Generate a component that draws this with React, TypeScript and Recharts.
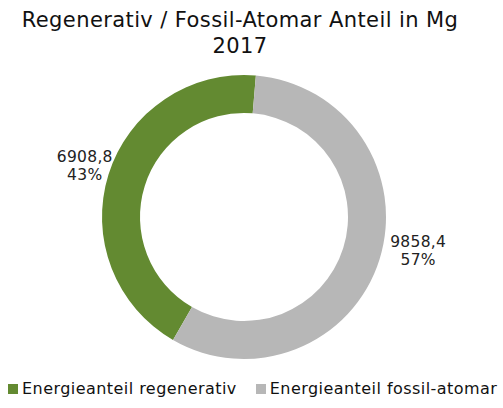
import React from "react";
import { PieChart, Pie, Cell } from "recharts";

const categories = ["Energieanteil regenerativ", "Energieanteil fossil-atomar"];
const values = [6908.8, 9858.4];
const shares = [43, 57];
const colors = ["#638A31", "#B7B7B7"];
const titleLines = ["Regenerativ / Fossil-Atomar Anteil in Mg", "2017"];

const data = categories.map((name, i) => ({
  name,
  value: values[i],
  share: shares[i],
}));

const FONT = "'DejaVu Sans', Verdana, sans-serif";
const RAD = Math.PI / 180;
const LABEL_NUDGE = [
  { dx: 3, dy: 0 },
  { dx: 12, dy: -17 },
];

const fmt = (v: number) => v.toFixed(1).replace(".", ",");

const renderLabel = (props: any) => {
  const { cx, cy, midAngle, outerRadius, index, payload } = props;
  const r = outerRadius + 28;
  const x = cx + r * Math.cos(-midAngle * RAD) + LABEL_NUDGE[index].dx;
  const y = cy + r * Math.sin(-midAngle * RAD) + LABEL_NUDGE[index].dy;
  const p = payload && payload.payload ? payload.payload : payload;
  return (
    <text
      x={x}
      y={y}
      textAnchor="middle"
      fontFamily={FONT}
      fontSize={15.5}
      letterSpacing={0.3}
      fill="#222"
    >
      <tspan x={x} dy={-4}>
        {fmt(p.value)}
      </tspan>
      <tspan x={x} dy={18}>
        {p.share + "%"}
      </tspan>
    </text>
  );
};

export default function App() {
  return (
    <div
      style={{
        position: "fixed",
        left: 0,
        top: 0,
        width: 503,
        height: 408,
        background: "#fff",
        fontFamily: FONT,
      }}
    >
      <div
        style={{
          position: "absolute",
          left: 0,
          top: 7,
          width: 480,
          textAlign: "center",
          fontSize: 21,
          letterSpacing: 0.4,
          lineHeight: "26px",
          color: "#111",
        }}
      >
        {titleLines.map((t) => (
          <div key={t}>{t}</div>
        ))}
      </div>
      <div style={{ position: "absolute", left: 0, top: 0 }}>
        <PieChart width={503} height={408}>
          <Pie
            data={data}
            dataKey="share"
            nameKey="name"
            cx={239}
            cy={212}
            innerRadius={104}
            outerRadius={142}
            startAngle={-120}
            endAngle={-480}
            stroke="none"
            labelLine={false}
            label={renderLabel}
            isAnimationActive={false}
          >
            {data.map((d, i) => (
              <Cell key={d.name} fill={colors[i]} />
            ))}
          </Pie>
        </PieChart>
      </div>
      <div
        style={{
          position: "absolute",
          left: 8,
          top: 379,
          display: "flex",
          alignItems: "center",
          fontSize: 16,
          letterSpacing: 0.45,
          color: "#111",
          whiteSpace: "nowrap",
        }}
      >
        {categories.map((c, i) => (
          <div
            key={c}
            style={{ display: "flex", alignItems: "center", marginRight: i === 0 ? 19 : 0 }}
          >
            <span
              style={{
                display: "inline-block",
                width: 10,
                height: 10,
                background: colors[i],
                marginRight: 4,
              }}
            />
            <span>{c}</span>
          </div>
        ))}
      </div>
    </div>
  );
}
